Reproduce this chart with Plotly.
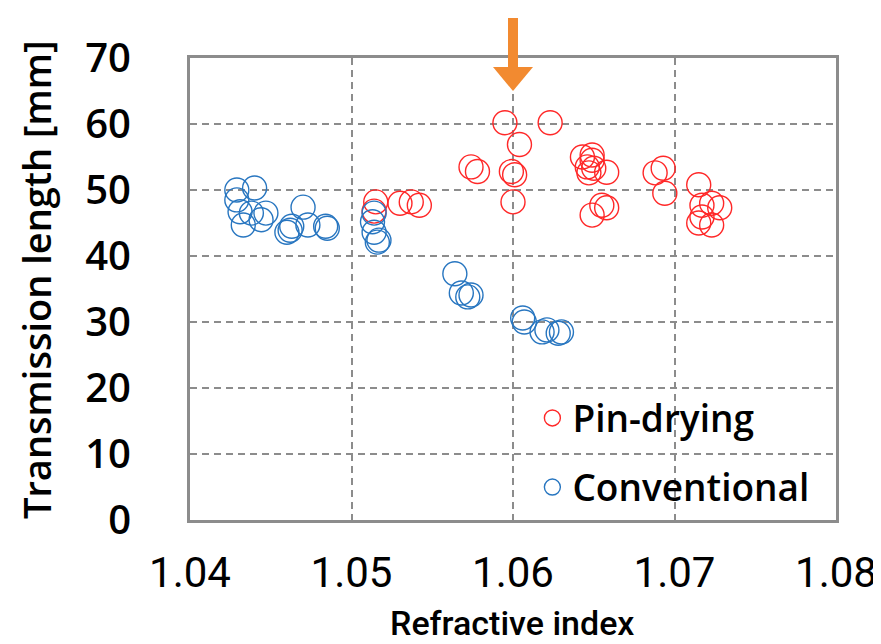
import plotly.graph_objects as go

# Pin-drying series
pin_x = [1.0595, 1.0623, 1.0604, 1.0574, 1.0578, 1.0599, 1.0601, 1.0600,
         1.0515, 1.0514, 1.0530, 1.0537, 1.0542,
         1.0643, 1.0649, 1.0649, 1.0646, 1.0650, 1.0647, 1.0658, 1.0649, 1.0655, 1.0658,
         1.0688, 1.0693, 1.0694,
         1.0715, 1.0717, 1.0723, 1.0728, 1.0717, 1.0715, 1.0723]
pin_y = [60.2, 60.2, 56.9, 53.5, 52.8, 52.8, 52.3, 48.2,
         48.2, 46.8, 48.0, 48.2, 47.7,
         55.0, 55.3, 54.5, 53.5, 53.3, 52.6, 52.7, 46.2, 47.7, 47.3,
         52.6, 53.3, 49.5,
         50.8, 47.7, 48.0, 47.3, 45.9, 45.0, 44.7]

# Conventional series
conv_x = [1.0429, 1.0440, 1.0429, 1.0431, 1.0433, 1.0438, 1.0447, 1.0444,
          1.0462, 1.0460, 1.0463, 1.0470, 1.0473, 1.0485, 1.0484,
          1.0514, 1.0513, 1.0514, 1.0517, 1.0516,
          1.0564, 1.0568, 1.0572, 1.0574,
          1.0606, 1.0607, 1.0618, 1.0621, 1.0628, 1.0630]
conv_y = [50.0, 50.3, 48.5, 46.7, 44.7, 46.5, 46.5, 45.5,
          43.9, 43.6, 44.5, 47.4, 44.7, 44.2, 44.5,
          46.5, 45.2, 43.6, 42.4, 42.1,
          37.3, 34.4, 33.8, 34.1,
          30.6, 30.0, 28.5, 28.8, 28.3, 28.5]

x_ticks = [1.04, 1.05, 1.06, 1.07, 1.08]
x_tick_labels = ["1.04", "1.05", "1.06", "1.07", "1.08"]
y_ticks = [0, 10, 20, 30, 40, 50, 60, 70]

x_title = "Refractive index"
y_title = "Transmission length [mm]"
arrow_x = 1.06

RED = "rgb(255,40,40)"
BLUE = "rgb(40,118,192)"
GRID = "#8c8c8c"
BOLD = "Open Sans, Noto Sans, sans-serif"
COND = "Roboto, sans-serif"

fig = go.Figure()
fig.add_trace(go.Scatter(
    x=pin_x, y=pin_y, mode="markers", name="Pin-drying",
    legendgroup="a",
    marker=dict(symbol="circle-open", size=24, color=RED, line=dict(width=1.4, color=RED)),
))
fig.add_trace(go.Scatter(
    x=conv_x, y=conv_y, mode="markers", name="Conventional",
    legendgroup="b",
    marker=dict(symbol="circle-open", size=24, color=BLUE, line=dict(width=1.4, color=BLUE)),
))

# orange arrow above x = 1.06
fig.add_shape(type="line", xref="x", yref="paper", xsizemode="pixel", ysizemode="pixel",
              xanchor=arrow_x, yanchor=1, x0=0, x1=0, y0=40, y1=-12,
              line=dict(color="#F28A30", width=10), layer="above")
fig.add_shape(type="path", xref="x", yref="paper", xsizemode="pixel", ysizemode="pixel",
              xanchor=arrow_x, yanchor=1, path="M -20 -9 L 20 -9 L 0 -33 Z",
              fillcolor="#F28A30", line=dict(color="#F28A30", width=0), layer="above")

# axis titles
fig.add_annotation(text=x_title, xref="paper", yref="paper", x=0.4985, y=-0.222,
                   xanchor="center", yanchor="middle", showarrow=False,
                   font=dict(family=COND, size=34, color="black", weight=500))
fig.add_annotation(text=y_title, xref="paper", yref="paper", x=-0.238, y=0.52,
                   xanchor="center", yanchor="middle", showarrow=False, textangle=-90,
                   font=dict(family=BOLD, size=38, color="black", weight=600))

fig.update_layout(
    width=881, height=644,
    margin=dict(l=182, r=53, t=50, b=132),
    paper_bgcolor="white", plot_bgcolor="white",
    showlegend=True,
    legend=dict(x=0.53, y=0.287, xanchor="left", yanchor="top",
                font=dict(family=BOLD, size=37, color="black", weight=600),
                bgcolor="rgba(0,0,0,0)", traceorder="grouped", tracegroupgap=18,
                itemwidth=30),
    xaxis=dict(range=[1.04, 1.08], tickvals=x_ticks, ticktext=x_tick_labels,
               showgrid=True, gridcolor=GRID, gridwidth=1.5, griddash="7px,5px",
               showline=True, linecolor=GRID, linewidth=3, mirror=True,
               zeroline=False, ticks="", ticklabelstandoff=14, automargin=False,
               tickfont=dict(family=COND, size=42, color="black")),
    yaxis=dict(range=[0, 70], tickvals=y_ticks,
               showgrid=True, gridcolor=GRID, gridwidth=1.5, griddash="7px,5px",
               showline=True, linecolor=GRID, linewidth=3, mirror=True,
               zeroline=False, ticks="", ticklabelstandoff=48, automargin=False,
               tickfont=dict(family=BOLD, size=40, color="black", weight=600)),
)

fig.write_html("out.html")
